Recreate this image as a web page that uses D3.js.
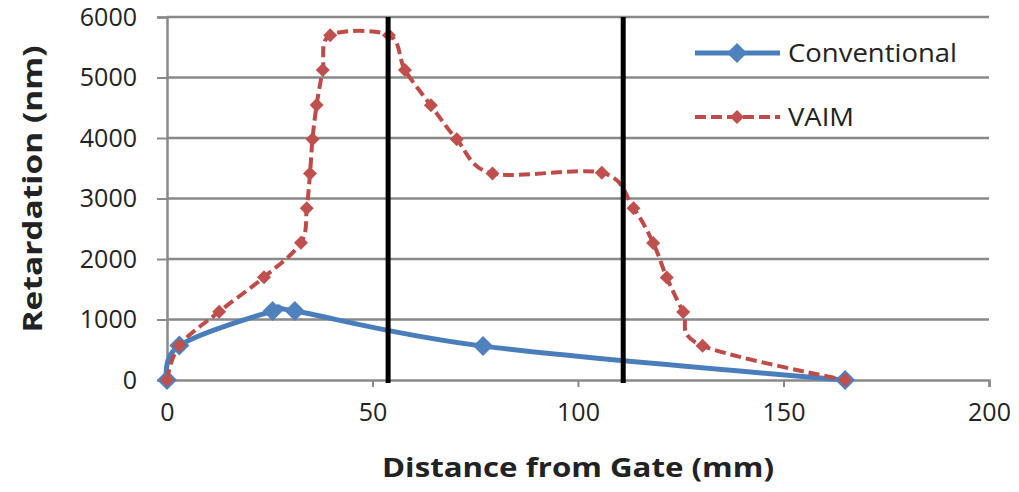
<!DOCTYPE html>
<html><head><meta charset="utf-8">
<script src="https://cdn.jsdelivr.net/npm/d3@7"></script>
<style>body{margin:0;background:#fff}svg{display:block}text{font-family:"Open Sans",sans-serif;fill:#222}</style>
</head><body><svg id="c" width="1019" height="492"></svg>
<script>
const xTicks = [0, 50, 100, 150, 200];
const yTicks = [0, 1000, 2000, 3000, 4000, 5000, 6000];
const convX = [0, 3, 25.7, 31.1, 76.9, 165];
const convY = [0, 570, 1140, 1140, 560, 0];
const vaimX = [0, 3, 12.7, 23.6, 32.6, 34.0, 34.8, 35.4, 36.4, 37.9, 39.7, 54, 57.9, 64.2, 70.5, 79.2, 105.8, 113.5, 118.3, 121.6, 125.6, 130.3, 165];
const vaimY = [0, 570, 1130, 1700, 2270, 2840, 3415, 3980, 4545, 5124, 5700, 5700, 5124, 4540, 3980, 3415, 3425, 2840, 2265, 1695, 1125, 565, 0];
const gateLines = [53.8, 111];
const seriesNames = ["Conventional", "VAIM"];

const svg = d3.select("#c");
const L = 167, R = 989, T = 17, B = 380;
const x = d3.scaleLinear().domain([0, 200]).range([L, R]);
const y = d3.scaleLinear().domain([0, 6000]).range([B, T]);
const grid = "#898989";

// gridlines
svg.append("g").selectAll("line").data(yTicks.filter(d => d > 0)).join("line")
  .attr("x1", L).attr("x2", R).attr("y1", d => y(d)).attr("y2", d => y(d))
  .attr("stroke", grid).attr("stroke-width", 2.5);

// axes
const yAxis = svg.append("g").attr("transform", `translate(${L},0)`)
  .call(d3.axisLeft(y).tickValues(yTicks).tickFormat(d3.format("d")).tickSize(10).tickPadding(20));
const xAxis = svg.append("g").attr("transform", `translate(0,${B})`)
  .call(d3.axisBottom(x).tickValues(xTicks).tickFormat(d3.format("d")).tickSize(7).tickPadding(30));
[yAxis, xAxis].forEach(a => {
  a.select(".domain").attr("stroke", grid).attr("stroke-width", 2.5);
  a.selectAll(".tick line").attr("stroke", grid).attr("stroke-width", 2);
  a.selectAll(".tick text").attr("font-size", 25).attr("fill", "#222").attr("font-family", "Open Sans");
});
xAxis.selectAll(".tick text").attr("dy", "0.15em");

const curve = d3.curveCardinal.tension(0);
const line = d3.line().x(d => x(d[0])).y(d => y(d[1])).curve(curve);
const conv = convX.map((d, i) => [d, convY[i]]);
const vaim = vaimX.map((d, i) => [d, vaimY[i]]);
const diamond = (cx, cy, r) => `M${cx},${cy - r}L${cx + r},${cy}L${cx},${cy + r}L${cx - r},${cy}Z`;

const blue = "#4A7EBB", red = "#BE4B48";
svg.append("path").attr("d", line(conv)).attr("fill", "none").attr("stroke", blue).attr("stroke-width", 5);
svg.append("g").selectAll("path").data(conv).join("path")
  .attr("d", d => diamond(x(d[0]), y(d[1]), 10)).attr("fill", "#4F81BD");

svg.append("path").attr("d", line(vaim)).attr("fill", "none").attr("stroke", red)
  .attr("stroke-width", 4).attr("stroke-dasharray", "11,5");
svg.append("g").selectAll("path").data(vaim).join("path")
  .attr("d", d => diamond(x(d[0]), y(d[1]), 7)).attr("fill", "#C0504D");

// gate lines
svg.append("g").selectAll("line").data(gateLines).join("line")
  .attr("x1", d => x(d)).attr("x2", d => x(d)).attr("y1", T).attr("y2", B + 3)
  .attr("stroke", "#000").attr("stroke-width", 5);

// legend
const lg = svg.append("g");
const legY = [53, 117];
lg.append("line").attr("x1", 695).attr("x2", 780).attr("y1", legY[0]).attr("y2", legY[0]).attr("stroke", blue).attr("stroke-width", 5);
lg.append("path").attr("d", diamond(737, legY[0], 10)).attr("fill", "#4F81BD");
lg.append("line").attr("x1", 695).attr("x2", 780).attr("y1", legY[1]).attr("y2", legY[1]).attr("stroke", red).attr("stroke-width", 4).attr("stroke-dasharray", "11,5");
lg.append("path").attr("d", diamond(737, legY[1], 7)).attr("fill", "#C0504D");
const legLen = [169, 66];
seriesNames.forEach((n, i) => lg.append("text").attr("x", 788).attr("y", legY[i]).attr("dy", "0.35em")
  .attr("font-size", 25).attr("textLength", legLen[i]).attr("lengthAdjust", "spacingAndGlyphs").text(n));

// titles
svg.append("text").attr("x", 578).attr("y", 477).attr("text-anchor", "middle")
  .attr("font-size", 27).attr("font-weight", "bold").attr("textLength", 392).attr("lengthAdjust", "spacingAndGlyphs")
  .text("Distance from Gate (mm)");
svg.append("text").attr("transform", "translate(42,189) rotate(-90)").attr("text-anchor", "middle")
  .attr("font-size", 27).attr("font-weight", "bold").attr("textLength", 287).attr("lengthAdjust", "spacingAndGlyphs")
  .text("Retardation (nm)");
</script></body></html>
